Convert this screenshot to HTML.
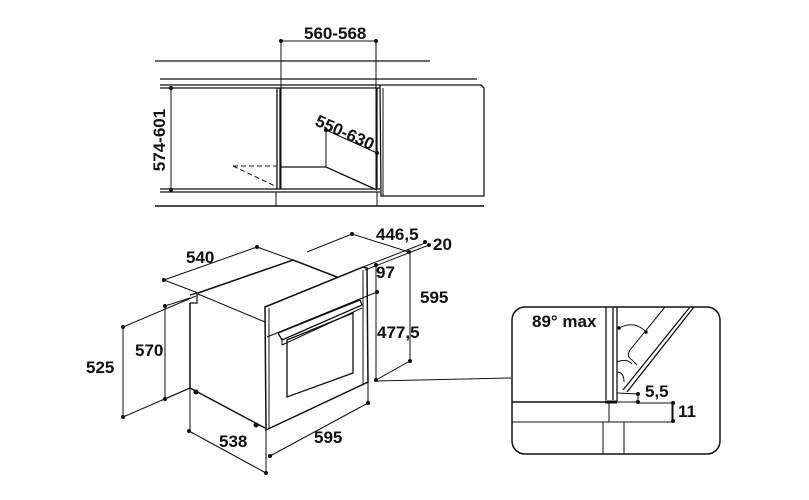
<!DOCTYPE html>
<html><head><meta charset="utf-8"><style>
html,body{margin:0;padding:0;background:#fff;}
svg{display:block;}
text{font-family:"Liberation Sans",Arial,sans-serif;font-weight:bold;font-size:17px;fill:#111;}
</style></head><body>
<svg width="809" height="500" viewBox="0 0 809 500" xmlns="http://www.w3.org/2000/svg">
<g stroke="#111" fill="none" stroke-width="1">
<!-- TOP CABINET -->
<line x1="155" y1="61" x2="430" y2="61" stroke-width="1.3"/>
<line x1="160" y1="79" x2="477" y2="79" stroke-width="1.3"/>
<line x1="160" y1="85" x2="380" y2="85" stroke-width="1.3"/>
<line x1="160" y1="88" x2="380" y2="88" stroke-width="1.3"/>
<line x1="160" y1="189" x2="380" y2="189" stroke-width="1.3"/>
<line x1="160" y1="192" x2="380" y2="192" stroke-width="1.3"/>
<line x1="155" y1="206" x2="484" y2="206" stroke-width="1.5"/>
<line x1="277" y1="88" x2="277" y2="189" stroke-width="1.3"/>
<line x1="280" y1="88" x2="280" y2="189" stroke-width="1.3"/>
<line x1="377" y1="88" x2="377" y2="189" stroke-width="1.3"/>
<line x1="276" y1="192" x2="276" y2="206"/>
<line x1="377" y1="192" x2="377" y2="206"/>
<path d="M380 85 L481 85 L484 88 L484 196 L381 196 Z" stroke-width="1.3"/>
<line x1="383" y1="88" x2="383" y2="196"/>
<line x1="281" y1="41" x2="376" y2="41"/>
<line x1="281" y1="41" x2="281" y2="189"/>
<line x1="376" y1="41" x2="376" y2="189"/>
<line x1="171" y1="88" x2="171" y2="190"/>
<line x1="280" y1="167" x2="326" y2="167" stroke-width="1.3"/>
<line x1="326" y1="130" x2="326" y2="167"/>
<line x1="326" y1="167" x2="377" y2="190" stroke-width="1.3"/>
<line x1="326" y1="130" x2="377" y2="153"/>
<line x1="233" y1="166" x2="277" y2="166" stroke-dasharray="5,3"/>
<line x1="233" y1="166" x2="277" y2="187" stroke-dasharray="5,3"/>

<!-- OVEN BODY -->
<path d="M198 293 L293 260 L337 277" stroke-width="1.5"/>
<line x1="293" y1="260" x2="257" y2="247"/>
<line x1="164" y1="280" x2="198" y2="293"/>
<path d="M190 303 L197 303 L197 293 L190 295" stroke-width="1.2"/>
<line x1="198" y1="294" x2="265" y2="322"/>
<line x1="190" y1="303" x2="190" y2="388" stroke-width="1.5"/>
<line x1="190" y1="388" x2="265" y2="428" stroke-width="1.5"/>
<path d="M265 307 L363 267 L367 268 L368 382 L266 430 Z" stroke-width="1.5"/>
<line x1="269" y1="308" x2="269" y2="428"/>
<line x1="363" y1="270" x2="363" y2="384"/>
<line x1="267" y1="337" x2="377" y2="292"/>
<path d="M278 333 L360 300 L362 305 L282 340 Z" stroke-width="1.3"/>
<line x1="282" y1="338" x2="282" y2="345"/>
<line x1="282" y1="345" x2="362" y2="308"/>
<path d="M287 340 L353 313 L353 373 L287 397 Z" stroke-width="1.3"/>
<circle cx="196" cy="392" r="2" fill="#111"/>
<circle cx="256" cy="425" r="2" fill="#111"/>

<!-- dims oven -->
<line x1="164" y1="280" x2="257" y2="247"/>
<line x1="307" y1="252" x2="352" y2="234"/>
<line x1="352" y1="234" x2="409" y2="252"/>
<line x1="363" y1="267" x2="425" y2="243"/>
<line x1="365" y1="270" x2="429" y2="245"/>
<line x1="376" y1="265" x2="376" y2="380"/>
<line x1="410" y1="252" x2="410" y2="361"/>
<line x1="410" y1="361" x2="376" y2="380"/>
<line x1="376" y1="381" x2="511" y2="378"/>
<line x1="165" y1="306" x2="190" y2="298"/>
<line x1="165" y1="306" x2="165" y2="399"/>
<line x1="165" y1="399" x2="190" y2="388"/>
<line x1="123" y1="327" x2="196" y2="296"/>
<line x1="123" y1="327" x2="123" y2="417"/>
<line x1="123" y1="417" x2="190" y2="388"/>
<line x1="190" y1="388" x2="190" y2="431"/>
<line x1="266" y1="430" x2="266" y2="473"/>
<line x1="368" y1="382" x2="368" y2="403"/>
<line x1="189" y1="431" x2="266" y2="473"/>
<line x1="270" y1="456" x2="368" y2="403"/>

<!-- DETAIL BOX -->
<rect x="512" y="307" width="208" height="147" rx="13" stroke-width="1.5"/>
<line x1="606" y1="307" x2="606" y2="400" stroke-width="1.3"/>
<line x1="613" y1="307" x2="613" y2="400" stroke-width="1.3"/>
<line x1="617" y1="307" x2="617" y2="402" stroke-width="1.3"/>
<line x1="512" y1="402" x2="617" y2="402" stroke-width="1.5"/>
<line x1="605" y1="402" x2="617" y2="402" stroke-width="3"/>
<line x1="512" y1="422" x2="609" y2="422"/>
<path d="M609 402 L609 422 L672 422 L672 402"/>
<line x1="617" y1="402" x2="638" y2="402"/>
<line x1="603" y1="422" x2="603" y2="454"/>
<line x1="624" y1="422" x2="624" y2="454"/>
<line x1="623" y1="390" x2="690" y2="307" stroke-width="1.3"/>
<line x1="627" y1="392" x2="694" y2="307" stroke-width="1.3"/>
<path d="M665 307 L630 350 Q626 356 632 360 L637 365"/>
<path d="M619 328 Q635 320 646 332"/>
<path d="M617 362 Q627 358 632 364"/>
<path d="M617 372 Q624 372 624 382"/>
<line x1="617" y1="393" x2="638" y2="394"/>
<line x1="638" y1="394" x2="638" y2="402"/>
<line x1="638" y1="403" x2="673" y2="403"/>
<line x1="673" y1="403" x2="673" y2="421"/>
</g>
<g fill="#111">
<circle cx="281" cy="41" r="2"/><circle cx="376" cy="41" r="2"/>
<circle cx="171" cy="88" r="2"/><circle cx="171" cy="190" r="2"/>
<circle cx="326" cy="130" r="2"/><circle cx="377" cy="153" r="2"/>
<circle cx="164" cy="280" r="2"/><circle cx="257" cy="247" r="2"/>
<circle cx="352" cy="234" r="2"/><circle cx="425" cy="242" r="2"/><circle cx="429" cy="245" r="2"/><circle cx="409" cy="252" r="2"/>
<circle cx="376" cy="265" r="2"/><circle cx="377" cy="292" r="2"/>
<circle cx="410" cy="361" r="2"/><circle cx="376" cy="380" r="2"/>
<circle cx="165" cy="306" r="2"/><circle cx="165" cy="399" r="2"/>
<circle cx="123" cy="327" r="2"/><circle cx="123" cy="417" r="2"/>
<circle cx="189" cy="431" r="2"/><circle cx="266" cy="473" r="2"/>
<circle cx="270" cy="456" r="2"/><circle cx="368" cy="403" r="2"/>
<circle cx="619" cy="328" r="1.8"/><circle cx="646" cy="332" r="1.8"/>
<circle cx="638" cy="394" r="2"/><circle cx="638" cy="402" r="2"/>
<circle cx="673" cy="403" r="2"/><circle cx="673" cy="421" r="2"/>
</g>
<text x="304" y="39">560-568</text>
<text transform="translate(165,140) rotate(-90)" text-anchor="middle">574-601</text>
<text transform="translate(314,125) rotate(24)">550-630</text>
<text x="186" y="263">540</text>
<text x="376" y="240">446,5</text>
<text x="433" y="250">20</text>
<text x="376" y="278">97</text>
<text x="420" y="303">595</text>
<text x="377" y="338">477,5</text>
<text x="135" y="356">570</text>
<text x="86" y="373">525</text>
<text x="219" y="447">538</text>
<text x="314" y="443">595</text>
<text x="532" y="327">89° max</text>
<text x="645" y="397">5,5</text>
<text x="678" y="417">11</text>
</svg>
</body></html>
